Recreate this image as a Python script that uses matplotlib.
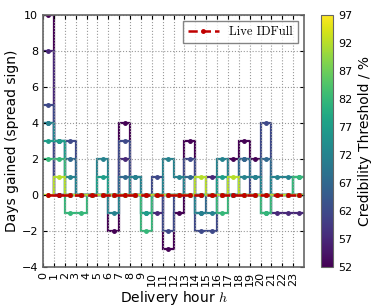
import numpy as np
import matplotlib
matplotlib.use('Agg')
import matplotlib.pyplot as plt
from matplotlib import cm, colors

plt.rcParams['mathtext.fontset'] = 'cm'

hours = np.arange(24)

# days gained per delivery hour for each credibility threshold (%)
thr_52 = [10, 0, 0, 0, 0, 0, -2, 4, 0, 0, 0, -3, -1, 3, 0, 0, 0, 2, 3, 2, 0, 0, 0, 0]
thr_57 = [8, 0, 0, 0, 0, 0, 0, 2, 0, 0, -1, 0, 0, 0, 0, 1, 0, 0, 0, 0, 0, -1, -1, -1]
thr_62 = [5, 0, 3, 0, 0, 0, 0, 3, 0, 0, 1, -2, 0, 2, -2, -2, 0, 0, 2, 0, 4, 0, 0, 0]
thr_67 = [4, 3, 2, 0, 0, 0, 0, 1, 1, 0, 0, 0, 0, 1, -1, 0, 0, 0, 2, 1, 2, 0, 0, 0]
thr_72 = [4, 3, 1, 0, 0, 2, -1, 0, 1, -1, 0, 2, 1, 0, -1, -1, 2, 0, 1, 1, 0, 1, 1, 0]
thr_77 = [3, 3, 0, 0, 0, 1, 0, 0, 0, -1, 0, 0, 0, 0, 0, 0, 1, 0, 0, 0, -1, 0, 0, 1]
thr_82 = [2, 2, -1, -1, 0, 0, 0, 0, 0, -2, 0, 0, 0, 0, 0, 0, -1, 0, 0, 0, -1, 0, 0, 1]
thr_92 = [0, 1, 0, 0, 0, 0, 0, 0, 0, 0, 0, 0, 0, 0, 1, 0, 0, 1, 0, 0, 0, 0, 0, 0]
live_idfull = [0] * 24

thresholds = [52, 57, 62, 67, 72, 77, 82, 92]
series = [thr_52, thr_57, thr_62, thr_67, thr_72, thr_77, thr_82, thr_92]

norm = colors.Normalize(vmin=52, vmax=97)
cmap = cm.viridis

fig = plt.figure(figsize=(3.74, 3.08), dpi=100)
ax = fig.add_axes([0.115, 0.133, 0.698, 0.818])
cax = fig.add_axes([0.857, 0.133, 0.034, 0.818])

edges = np.arange(25)
for t, vals in zip(thresholds, series):
    c = cmap(norm(t))
    ax.stairs(vals, edges, baseline=None, color=c, lw=1.6)
    ax.plot(hours + 0.5, vals, 'o', color=c, ms=2.5, mec=c)

ax.plot(hours + 0.5, live_idfull, '--', color='#c00000', lw=1.8, marker='.', ms=5,
        label='Live IDFull')

ax.set_xlim(0, 24)
ax.set_ylim(-4, 10)
ax.set_xticks(hours)
ax.set_xticklabels([str(h) for h in hours], rotation=90, fontsize=8)
ax.set_yticks(np.arange(-4, 11, 2))
ax.tick_params(axis='y', labelsize=8)
ax.tick_params(direction='in', top=True, right=True, length=3)
ax.grid(True, color='#999999', ls=':', lw=0.8)
for s in ax.spines.values():
    s.set_color('#666666')
    s.set_linewidth(1.2)

ax.set_xlabel('Delivery hour $h$', fontsize=10, labelpad=2)
ax.set_ylabel('Days gained (spread sign)', fontsize=10, labelpad=2)

leg = ax.legend(loc='upper right', prop={'family': 'cmr10', 'size': 9},
                fancybox=False, handlelength=2.5, borderaxespad=0.5)
leg.get_frame().set_edgecolor('#666666')

sm = cm.ScalarMappable(norm=norm, cmap=cmap)
cb = fig.colorbar(sm, cax=cax, ticks=np.arange(52, 98, 5))
cb.ax.tick_params(labelsize=8, length=0)
cb.outline.set_edgecolor('#666666')
cb.set_label('Credibility Threshold / %', fontsize=10)

fig.savefig('out.png', dpi=100)
